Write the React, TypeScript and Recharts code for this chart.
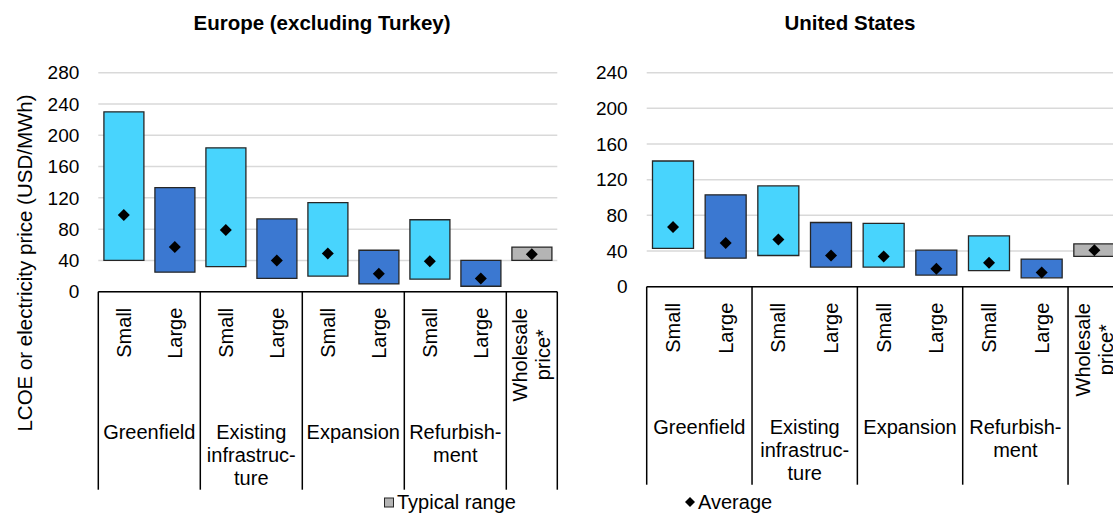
import React from 'react';
import { ComposedChart, Bar, Line, Cell, XAxis, YAxis, CartesianGrid } from 'recharts';

const categories = ['Small', 'Large', 'Small', 'Large', 'Small', 'Large', 'Small', 'Large', 'Wholesale\nprice*'];
const kinds = ['small', 'large', 'small', 'large', 'small', 'large', 'small', 'large', 'wholesale'];
const groups = ['Greenfield', 'Existing\ninfrastruc-\nture', 'Expansion', 'Refurbish-\nment'];

const europeLow = [40, 25, 32, 17, 20, 10, 16, 7, 40];
const europeHigh = [230, 133, 184, 93, 114, 53, 92, 40, 57];
const europeAvg = [98, 57, 79, 40, 49, 23, 39, 17, 48];
const europeTicks = [0, 40, 80, 120, 160, 200, 240, 280];

const usLow = [43, 32, 35, 22, 22, 13, 18, 10, 34];
const usHigh = [141, 103, 113, 72, 71, 41, 57, 31, 48];
const usAvg = [67, 49, 53, 35, 34, 20, 27, 16, 41];
const usTicks = [0, 40, 80, 120, 160, 200, 240];

const COLORS: Record<string, string> = {
  small: '#48d4fd',
  large: '#3b78d1',
  wholesale: '#b4b4b4',
};
const FONT = '"Liberation Sans", Arial, sans-serif';

const buildRows = (low: number[], high: number[], avg: number[]) =>
  categories.map((c, i) => ({
    id: `c${i}`,
    range: [low[i], high[i]],
    avg: avg[i],
    kind: kinds[i],
  }));

const Diamond = (props: any) => {
  const { cx, cy, index } = props;
  if (cx == null || cy == null) return null;
  return (
    <path
      key={`dia-${index}`}
      d={`M${cx},${cy - 6}L${cx + 6},${cy}L${cx},${cy + 6}L${cx - 6},${cy}Z`}
      fill="#000"
    />
  );
};

// category axis: rotated size labels, group labels and the separator lines
const makeTick = (band: number) => (props: any) => {
  const { x, y, index } = props;
  const lines = categories[index].split('\n');
  const multi = lines.length > 1;
  const last = index === categories.length - 1;
  const first = index % 2 === 0;
  const groupLines = first && !last ? groups[index / 2].split('\n') : [];
  return (
    <g>
      {lines.map((ln, j) => (
        <text
          key={`l${j}`}
          x={0}
          y={0}
          transform={`translate(${x + (j - (lines.length - 1) / 2) * 23}, ${y + (multi ? 63 : 16)}) rotate(-90)`}
          textAnchor={multi ? 'middle' : 'end'}
          dominantBaseline="central"
          fontSize={20}
          fontFamily={FONT}
          fill="#000"
        >
          {ln}
        </text>
      ))}
      {first && (
        <line x1={x - band / 2} x2={x - band / 2} y1={y} y2={y + 198} stroke="#000" strokeWidth={1.5} />
      )}
      {last && (
        <line x1={x + band / 2} x2={x + band / 2} y1={y} y2={y + 198} stroke="#000" strokeWidth={1.5} />
      )}
      {groupLines.map((ln, j) => (
        <text
          key={`g${j}`}
          x={x + band / 2}
          y={y + 140 + j * 23}
          textAnchor="middle"
          dominantBaseline="central"
          fontSize={20}
          fontFamily={FONT}
          fill="#000"
        >
          {ln}
        </text>
      ))}
    </g>
  );
};

interface PanelProps {
  left: number;
  width: number;
  yAxisWidth: number;
  marginRight: number;
  axisY: number;
  ticks: number[];
  low: number[];
  high: number[];
  avg: number[];
}

const TOP = 72.7;
const HEIGHT = 513;

const Panel: React.FC<PanelProps> = ({ left, width, yAxisWidth, marginRight, axisY, ticks, low, high, avg }) => {
  const data = buildRows(low, high, avg);
  const band = (width - yAxisWidth - marginRight) / categories.length;
  return (
    <div style={{ position: 'absolute', left, top: 0 }}>
      <ComposedChart
        width={width}
        height={HEIGHT}
        data={data}
        margin={{ top: TOP, right: marginRight, bottom: 0, left: 0 }}
        barCategoryGap="11%"
      >
        <CartesianGrid vertical={false} stroke="#d9d9d9" strokeWidth={1.5} />
        <XAxis
          dataKey="id"
          height={HEIGHT - axisY}
          interval={0}
          tickLine={false}
          tickSize={0}
          tickMargin={0}
          axisLine={{ stroke: '#000', strokeWidth: 1.5 }}
          tick={makeTick(band)}
        />
        <YAxis
          width={yAxisWidth}
          domain={[0, ticks[ticks.length - 1]]}
          ticks={ticks}
          interval={0}
          axisLine={false}
          tickLine={false}
          tickSize={0}
          tickMargin={19}
          tick={{ fill: '#000', fontSize: 19, fontFamily: FONT }}
        />
        <Bar dataKey="range" stroke="#262626" strokeWidth={1.3} isAnimationActive={false}>
          {data.map((d) => (
            <Cell key={d.id} fill={COLORS[d.kind]} />
          ))}
        </Bar>
        <Line
          dataKey="avg"
          stroke="none"
          dot={Diamond}
          activeDot={false}
          legendType="none"
          isAnimationActive={false}
        />
      </ComposedChart>
    </div>
  );
};

const App: React.FC = () => {
  return (
    <div
      style={{
        position: 'fixed',
        left: 0,
        top: 0,
        width: 1113,
        height: 513,
        overflow: 'hidden',
        background: '#fff',
        fontFamily: FONT,
      }}
    >
      <Panel
        left={0}
        width={560}
        yAxisWidth={98.3}
        marginRight={2.7}
        axisY={291.7}
        ticks={europeTicks}
        low={europeLow}
        high={europeHigh}
        avg={europeAvg}
      />
      <Panel
        left={560}
        width={570}
        yAxisWidth={86.7}
        marginRight={9.3}
        axisY={286.7}
        ticks={usTicks}
        low={usLow}
        high={usHigh}
        avg={usAvg}
      />
      <svg
        width={1113}
        height={513}
        style={{ position: 'absolute', left: 0, top: 0, pointerEvents: 'none' }}
        fontFamily={FONT}
      >
        <text x={322} y={22} textAnchor="middle" dominantBaseline="central" fontSize={20.5} fontWeight="bold">
          Europe (excluding Turkey)
        </text>
        <text x={850} y={22} textAnchor="middle" dominantBaseline="central" fontSize={20.5} fontWeight="bold">
          United States
        </text>
        <text
          x={0}
          y={0}
          transform="translate(24, 263) rotate(-90)"
          textAnchor="middle"
          dominantBaseline="central"
          fontSize={20.5}
        >
          LCOE or electricity price (USD/MWh)
        </text>
        <rect x={384.5} y={498} width={9} height={9} fill={COLORS.wholesale} stroke="#262626" strokeWidth={1} />
        <text x={397} y={502} dominantBaseline="central" fontSize={20}>
          Typical range
        </text>
        <path d="M690,497L695,502L690,507L685,502Z" fill="#000" />
        <text x={698} y={502} dominantBaseline="central" fontSize={20}>
          Average
        </text>
      </svg>
    </div>
  );
};

export default App;
